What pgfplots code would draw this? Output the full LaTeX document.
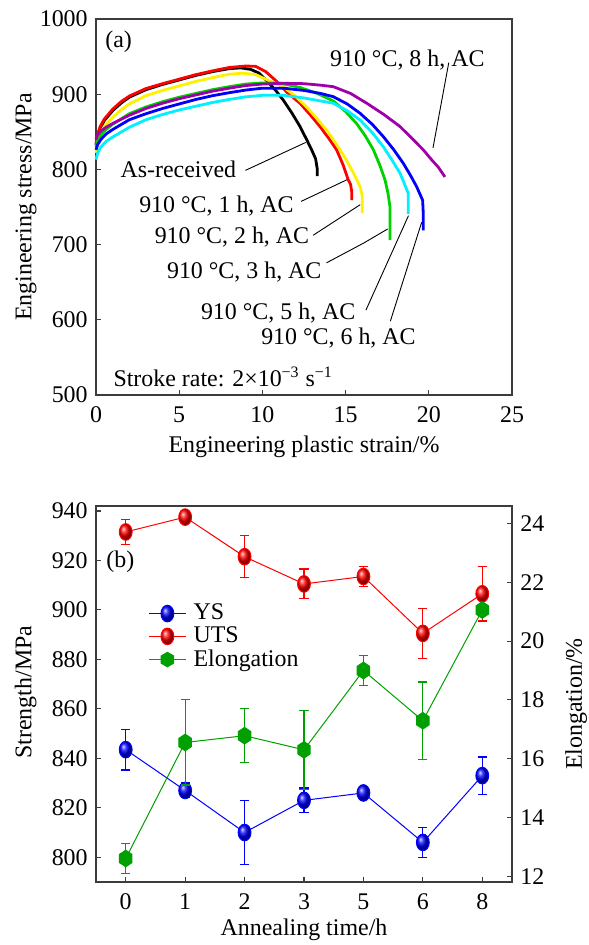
\documentclass[border=0pt]{standalone}
\usepackage{fontspec}
\setmainfont{Liberation Serif}
\usepackage{pgfplots}
\usepackage{pgfplotstable}
\pgfplotsset{compat=1.18}
\definecolor{cgreen}{RGB}{0,210,0}
\definecolor{cpurple}{RGB}{160,0,170}
\definecolor{cyellow}{RGB}{255,240,0}
\definecolor{ccyan}{RGB}{0,240,255}
\definecolor{cblue}{RGB}{0,0,255}
\definecolor{cred}{RGB}{255,0,0}
\definecolor{egreen}{RGB}{0,160,0}
\definecolor{axisgray}{RGB}{60,60,60}
\pgfdeclareplotmark{hexagon*}{%
  \pgfpathmoveto{\pgfpointpolar{90}{\pgfplotmarksize}}%
  \pgfpathlineto{\pgfpointpolar{150}{\pgfplotmarksize}}%
  \pgfpathlineto{\pgfpointpolar{210}{\pgfplotmarksize}}%
  \pgfpathlineto{\pgfpointpolar{270}{\pgfplotmarksize}}%
  \pgfpathlineto{\pgfpointpolar{330}{\pgfplotmarksize}}%
  \pgfpathlineto{\pgfpointpolar{30}{\pgfplotmarksize}}%
  \pgfpathclose
  \pgfusepathqfillstroke}

\pgfplotstableread{
x y e
0 843.5 8.2
1 827 3
2 810 13
3 823 5
4 826 1.5
5 806 6
6 833 7.5
}\ys
\pgfplotstableread{
x y e
0 931.5 5
1 937.5 1
2 921.5 8.5
3 910.5 6
4 913.5 4
5 890.5 10
6 906.5 11
}\uts
\pgfplotstableread{
x y e
0 12.6 0.5
1 16.55 1.45
2 16.78 0.92
3 16.3 1.35
4 19.0 0.52
5 17.29 1.32
6 21.06 0.2
}\elong

\pgfplotsset{
  myaxis/.style={
    scale only axis, width=208bp, height=188bp,
    tick align=inside,
    major tick length=2.5bp,
    axis line style={line width=0.7bp, axisgray},
    tick style={line width=0.6bp, axisgray},
    /pgf/number format/assume math mode=true,
    /pgf/number format/1000 sep={},
    xticklabel style={yshift=-1.5bp},
  },
}

\begin{document}
\fontsize{12}{14}\selectfont
\begin{tikzpicture}
\useasboundingbox (0,0) rectangle (294.5bp,472.5bp);
% ---------------- top panel ----------------
\begin{axis}[myaxis,
  at={(48bp,275bp)}, anchor=south west,
  xmin=0, xmax=25, ymin=500, ymax=1000,
  xtick={0,5,10,15,20,25}, ytick={500,600,700,800,900,1000},
  xtick pos=bottom, ytick pos=left,
  xlabel={Engineering plastic strain/\%},
  ylabel={Engineering stress/MPa},
  xlabel style={at={(axis description cs:0.5,-0.138)}, anchor=center},
  ylabel style={at={(axis description cs:-0.168,0.5)}, anchor=center},
  every axis plot/.append style={line width=1.4bp, line join=round},
  clip=false,
]
\addplot[black] coordinates {(0,832)(0.1,845)(0.25,855)(0.5,865)(1,878)(1.5,888)(2,896)(3,906)(4,913)(5,919)(6,925)(7,930)(8,934)(8.7,935)(9.3,933)(9.8,928)(10.26,918)(10.8,905)(11.26,892)(11.8,874)(12.26,857)(12.65,840)(12.96,826)(13.2,814)(13.3,800)(13.3,791)};
\addplot[cred] coordinates {(0,834)(0.1,847)(0.25,857)(0.5,867)(1,880)(1.5,890)(2,897.5)(3,907.5)(4,914)(5,920)(6,926)(7,931)(8,935.5)(9,937.5)(9.6,937)(10.2,930)(10.86,917)(11.5,902)(12.26,888)(12.9,872)(13.46,857)(14.0,841)(14.46,826)(14.85,806)(15.16,786)(15.3,780)(15.37,770)(15.37,759)};
\addplot[cyellow] coordinates {(0,822)(0.1,835)(0.25,847)(0.5,857)(1,869)(1.5,879)(2,887)(3,898)(4,905)(5,911)(6,917)(7,922)(8,926.5)(8.8,928)(9.6,926)(10.4,918)(11.26,910)(12,897)(12.66,883)(13.3,867)(13.86,852)(14.5,832)(15.06,812)(15.5,794)(15.87,777)(16.0,765)(16.0,742)};
\addplot[cgreen] coordinates {(0,830)(0.1,838)(0.3,846)(0.6,853)(1,860)(2,874)(3,883)(4,890)(5,896)(6,901)(7,906)(8,910)(9,913.5)(10,915)(11,915)(12.26,909)(13.3,901)(14.26,891)(15.0,877)(15.66,861)(16.2,844)(16.67,826)(17.05,806)(17.37,786)(17.55,768)(17.67,750)(17.67,706)};
\addplot[ccyan] coordinates {(0,813)(0.1,822)(0.3,830)(0.6,837)(1,843)(2,856)(3,866)(4,873)(5,879)(6,884)(7,889)(8,893)(9,896.5)(10,898.5)(11.26,898.5)(12.5,895)(13.5,891)(14.26,888)(15.1,878)(15.87,865.7)(16.6,849)(17.27,830)(17.8,812)(18.27,795)(18.55,780)(18.77,768)(18.77,741)};
\addplot[cblue] coordinates {(0,826)(0.1,833)(0.3,840)(0.6,847)(1,853)(2,866)(3,874)(4,881)(5,887)(6,893)(7,898)(8,902)(9,905.5)(10,908)(11.26,908)(12.5,905)(13.5,901)(14.26,896.7)(15.1,887)(15.87,874.6)(16.6,860)(17.27,843.5)(17.9,826)(18.47,808)(18.9,792)(19.27,777)(19.63,759)(19.67,740)(19.67,719)};
\addplot[cpurple] coordinates {(0,840)(0.1,846)(0.3,851)(0.6,856)(1,861)(2,872)(3,881)(4,888)(5,894)(6,899)(7,904)(8,908)(9,911.5)(10,913.5)(11.26,914.5)(12.5,914)(13.5,912)(14.26,910)(15.3,901)(16.27,888)(17.3,873)(18.27,857)(19.0,841)(19.67,826)(20.2,812)(20.57,803)(20.97,790)};
% annotations
\node at (axis cs:1.36,969.9) {(a)};
\node at (axis cs:18.71,945.6) {910 °C, 8 h, AC};
\node at (axis cs:4.95,799.6) {As-received};
\node at (axis cs:7.24,750.9) {910 °C, 1 h, AC};
\node at (axis cs:8.17,710.2) {910 °C, 2 h, AC};
\node at (axis cs:8.91,663.3) {910 °C, 3 h, AC};
\node at (axis cs:10.95,609.3) {910 °C, 5 h, AC};
\node at (axis cs:14.57,576.1) {910 °C, 6 h, AC};
\node[anchor=west] at (axis cs:0.55,523.9) {Stroke rate: 2×10\textsuperscript{\char"2212 3} s\textsuperscript{\char"2212 1}};
\draw[line width=0.45bp] (axis cs:21.2,942.0) -- (axis cs:20.25,828.3);
\draw[line width=0.45bp] (axis cs:8.98,798.7) -- (axis cs:12.6,835.8);
\draw[line width=0.45bp] (axis cs:12.33,757.5) -- (axis cs:15.09,786.3);
\draw[line width=0.45bp] (axis cs:13.05,712.4) -- (axis cs:15.88,753.1);
\draw[line width=0.45bp] (axis cs:13.85,675.7) -- (axis cs:16.1,702.2) -- (axis cs:17.53,720.8);
\draw[line width=0.45bp] (axis cs:16.22,612.8) -- (axis cs:18.78,738.5);
\draw[line width=0.45bp] (axis cs:17.69,598.2) -- (axis cs:19.57,729.6);
\end{axis}
% ---------------- bottom panel ----------------
\begin{axis}[myaxis,
  at={(48bp,31.5bp)}, anchor=south west,
  xmin=-0.5, xmax=6.5, ymin=790, ymax=942,
  xtick={0,1,2,3,4,5,6}, xticklabels={0,1,2,3,5,6,8},
  ytick={800,820,840,860,880,900,920,940},
  xtick pos=bottom, ytick pos=left,
  xlabel={Annealing time/h},
  ylabel={Strength/MPa},
  xlabel style={at={(axis description cs:0.5,-0.128)}, anchor=center},
  ylabel style={at={(axis description cs:-0.169,0.505)}, anchor=center},
  legend style={at={(axis description cs:0.125,0.744)}, anchor=north west,
    draw=none, fill=none, inner sep=0pt, row sep=0.5bp, column sep=3bp,
    nodes={inner sep=0.6bp}},
  legend image code/.code={\draw[mark repeat=2,mark phase=2,#1] plot coordinates {(0bp,0bp)(9.25bp,0bp)(18.5bp,0bp)};},
  legend cell align=left,
  clip=false,
]
\addplot[cblue, line width=0.5bp, mark=ball, mark size=3.2bp,
  mark options={ball color=cblue, yscale=1.3},
  error bars/.cd, y dir=both, y explicit,
  error bar style={cblue, line width=0.6bp},
  error mark options={rotate=90, cblue, mark size=2.3bp, line width=0.6bp}]
  table[x=x, y=y, y error=e] {\ys};
\addlegendentry{YS}
\addplot[cred, line width=0.5bp, mark=ball, mark size=3.2bp,
  mark options={ball color=cred, yscale=1.3},
  error bars/.cd, y dir=both, y explicit,
  error bar style={cred, line width=0.6bp},
  error mark options={rotate=90, cred, mark size=2.3bp, line width=0.6bp}]
  table[x=x, y=y, y error=e] {\uts};
\addlegendentry{UTS}
\addlegendimage{egreen, line width=0.5bp, mark=hexagon*, mark size=3.6bp, mark options={fill=egreen, draw=egreen}}
\addlegendentry{Elongation}
\node at (axis cs:-0.09,919.5) {(b)};
\end{axis}
\begin{axis}[myaxis,
  at={(48bp,31.5bp)}, anchor=south west,
  xmin=-0.5, xmax=6.5, ymin=11.8, ymax=24.6,
  axis x line=none, axis y line*=right,
  ytick={12,14,16,18,20,22,24},
  ylabel={Elongation/\%},
  ylabel style={at={(axis description cs:1.154,0.473)}, anchor=center},
  clip=false,
]
\addplot[egreen, line width=0.5bp, mark=hexagon*, mark size=3.6bp,
  mark options={fill=egreen, draw=egreen, yscale=1.15},
  error bars/.cd, y dir=both, y explicit,
  error bar style={egreen, line width=0.6bp},
  error mark options={rotate=90, egreen, mark size=2.3bp, line width=0.6bp}]
  table[x=x, y=y, y error=e] {\elong};
\end{axis}
\end{tikzpicture}
\end{document}
